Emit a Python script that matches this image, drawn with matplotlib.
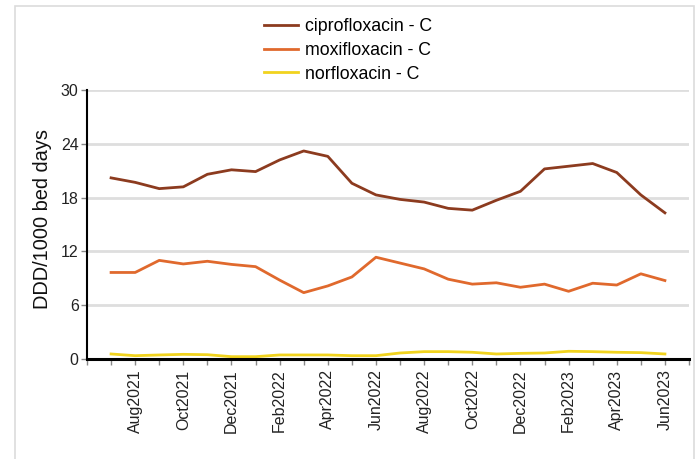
import numpy as np
import matplotlib
matplotlib.use("Agg")
import matplotlib.pyplot as plt
from matplotlib.patches import Rectangle

plt.rcParams['font.family'] = ['Liberation Sans', 'DejaVu Sans']

# Maanden Jul2021 .. Jun2023
maanden = ["Jul2021", "Aug2021", "Sep2021", "Oct2021", "Nov2021", "Dec2021",
           "Jan2022", "Feb2022", "Mar2022", "Apr2022", "May2022", "Jun2022",
           "Jul2022", "Aug2022", "Sep2022", "Oct2022", "Nov2022", "Dec2022",
           "Jan2023", "Feb2023", "Mar2023", "Apr2023", "May2023", "Jun2023"]

cipro = [20.2, 19.7, 19.0, 19.2, 20.6, 21.1, 20.9, 22.2, 23.2, 22.6, 19.6, 18.3,
         17.8, 17.5, 16.8, 16.6, 17.7, 18.7, 21.2, 21.5, 21.8, 20.8, 18.3, 16.3]
moxi = [9.65, 9.65, 11.0, 10.6, 10.9, 10.55, 10.3, 8.8, 7.4, 8.15, 9.15, 11.35,
        10.7, 10.05, 8.9, 8.35, 8.5, 8.0, 8.35, 7.55, 8.45, 8.25, 9.5, 8.75]
norflox = [0.56, 0.37, 0.45, 0.52, 0.48, 0.26, 0.26, 0.45, 0.45, 0.45, 0.37, 0.37,
           0.67, 0.82, 0.82, 0.75, 0.56, 0.63, 0.67, 0.86, 0.82, 0.75, 0.71, 0.56]

reeksen = [("ciprofloxacin - C", cipro, "#8c3b1f"),
           ("moxifloxacin - C", moxi, "#e0692d"),
           ("norfloxacin - C", norflox, "#f1d31e")]

fig = plt.figure(figsize=(6.96, 4.59), dpi=100)
ax = fig.add_axes([87 / 696, 1 - 359 / 459, (689 - 87) / 696, (359 - 90) / 459])

# lichtgrijs kader rond de grafiek
fig.patches.append(Rectangle((15 / 696, -0.1), (694 - 15) / 696, 1 - 6 / 459 + 0.1,
                             transform=fig.transFigure, fill=False,
                             edgecolor="#dcdcdc", linewidth=1.2))

x = np.arange(len(maanden))
lijnen = []
for naam, waarden, kleur in reeksen:
    l, = ax.plot(x, waarden, color=kleur, linewidth=2, label=naam)
    lijnen.append(l)

ax.set_xlim(-1, 24)
ax.set_ylim(0, 30)
ax.set_yticks([0, 6, 12, 18, 24, 30])
ax.set_xticks(np.arange(-1, 25))
ax.set_xticklabels([""] + [m if i % 2 == 1 else "" for i, m in enumerate(maanden)] + [""],
                   rotation=90)
ax.grid(axis="y", color="#dedede", linewidth=2)
ax.set_axisbelow(True)

for s in ["top", "right"]:
    ax.spines[s].set_visible(False)
ax.spines["left"].set_linewidth(1.5)
ax.spines["bottom"].set_linewidth(2.2)
ax.tick_params(axis="both", colors="#888888", labelcolor="#222222", labelsize=11.5,
               length=4, width=1)
ax.tick_params(axis="y", pad=2)

ax.set_ylabel("DDD/1000 bed days", fontsize=14.4, color="#111111", labelpad=6)
ax.yaxis.set_label_coords(-0.058, 0.52)

fig.legend(handles=lijnen, loc="upper left", bbox_to_anchor=(264 / 696, 1 - 18 / 459),
           frameon=False, fontsize=12.8, handlelength=1.9, handletextpad=0.4,
           labelspacing=0.38, borderpad=0, borderaxespad=0)

fig.savefig("out.png", dpi=100)
